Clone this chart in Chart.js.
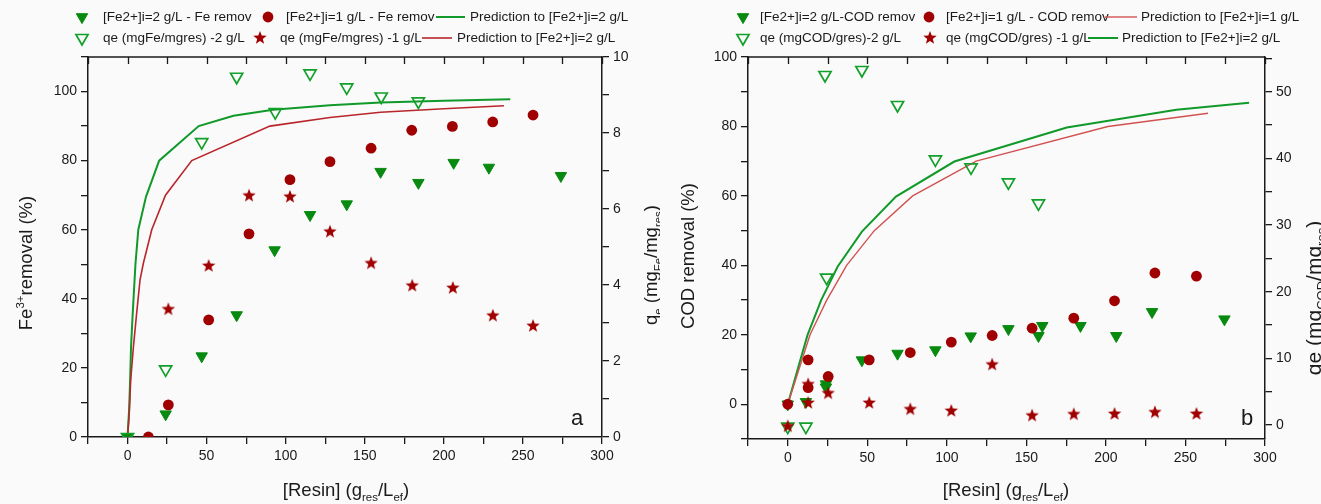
<!DOCTYPE html>
<html>
<head>
<meta charset="utf-8">
<script src="https://cdn.jsdelivr.net/npm/chart.js@4.4.1/dist/chart.umd.min.js"></script>
<style>
  html, body { margin: 0; padding: 0; background: #fafafa; }
  #wrap { position: relative; width: 1321px; height: 504px; overflow: hidden; }
  canvas { position: absolute; top: 0; }
  #chart-fe { left: 0; }
  #chart-cod { left: 660px; }
</style>
</head>
<body>
<div id="wrap">
  <canvas id="chart-fe" width="660" height="504"></canvas>
  <canvas id="chart-cod" width="661" height="504"></canvas>
</div>
<script>
// Remoção de Fe3+ (a) e de DQO (b) em função da dose de resina.

// ---- (a) Fe ----
var feX2 = [0, 24.1, 46.9, 69, 93, 115.4, 138.6, 160, 183.9, 206.2, 228.5, 274];
var feRem2 = [0, 6.6, 23.4, 35.3, 54.1, 64.3, 67.4, 76.8, 73.6, 79.4, 78, 75.6];
var feX1 = [13.2, 25.8, 51.3, 76.8, 102.7, 128, 154, 179.7, 205.4, 230.9, 256.4];
var feRem1 = [0, 9.3, 33.9, 58.8, 74.5, 79.7, 83.6, 88.8, 89.9, 91.2, 93.2];
var feQeX2 = [0, 24.1, 46.9, 69, 93.4, 115.4, 138.6, 160.4, 183.9];
var feQe2 = [0, 1.78, 7.76, 9.48, 8.55, 9.57, 9.2, 8.96, 8.83];
var feQeX1 = [25.8, 51.3, 76.8, 102.7, 128, 154, 180, 205.7, 231, 256.4];
var feQe1 = [3.36, 4.5, 6.35, 6.32, 5.4, 4.57, 3.98, 3.92, 3.19, 2.92];
var fePredX2 = [0, 1, 1.6, 2.2, 3.3, 5, 6.8, 11.7, 20, 45, 67, 92, 128, 160, 200, 242];
var fePred2 = [0, 8, 16, 26, 36, 50, 60, 69.6, 80, 90, 93, 94.7, 96, 96.8, 97.3, 97.8];
var fePredX1 = [0, 1.1, 2, 3.7, 5.8, 7.9, 10, 15.3, 24, 40.6, 90, 128, 160, 200, 238];
var fePred1 = [0, 7, 16.5, 26, 36, 45.5, 50.3, 60, 70, 80, 90, 92.5, 94, 95, 95.9];

// ---- (b) DQO ----
var codX2 = [0, 11.4, 24, 24, 46.6, 69, 92.8, 115, 138.7, 157.6, 160, 184, 206.5, 229, 274.5];
var codRem2 = [0, 0.7, 5.8, 4.9, 12.7, 14.6, 15.6, 19.6, 21.7, 19.7, 22.6, 22.6, 19.7, 26.6, 24.5];
var codX1 = [0, 12.8, 12.8, 25.4, 51.2, 77, 102.8, 128.5, 153.6, 179.8, 205.4, 230.8, 256.9];
var codRem1 = [0, 12.8, 4.8, 8, 12.8, 14.9, 17.9, 19.8, 21.9, 24.8, 29.8, 37.8, 36.9];
var codQeX2 = [0, 11.4, 24.4, 23.4, 46.6, 69, 92.8, 115.2, 138.7, 157.6];
var codQe2 = [-0.25, -0.25, 22.1, 52.5, 53.25, 48, 39.85, 38.65, 36.4, 33.25];
var codQeX1 = [0, 12.8, 12.8, 25.4, 51.2, 77, 102.8, 128.5, 153.6, 179.8, 205.4, 230.8, 256.9];
var codQe1 = [-0.2, 6.1, 3.3, 4.75, 3.3, 2.35, 2.1, 9.05, 1.4, 1.6, 1.65, 1.9, 1.65];
var codPredX2 = [0, 6.5, 12.4, 21, 31.3, 46.6, 68, 104.7, 175.4, 244.3, 290];
var codPred2 = [0, 10.5, 19.9, 30, 39.6, 49.7, 59.8, 69.9, 79.7, 84.8, 86.8];
var codPredX1 = [0, 14, 24.5, 37, 54.4, 78.5, 118.4, 201.2, 264.2];
var codPred1 = [0, 20, 30, 40, 50, 60, 70, 80, 83.8];

var GREEN = "#078a0f";
var GREEN_OPEN = "#12a02a";
var GREEN_LINE = "#11992a";
var DARK_RED = "#a00000";
var RED_LINE_A = "#b8262b";
var RED_LINE_B = "#d25252";
var INK = "#1a1a1a";
var FONT = "'Liberation Sans', Arial, sans-serif";

function pts(xs, ys) {
  return xs.map(function (x, i) { return { x: x, y: ys[i] }; });
}

// estrela cheia de 5 pontas (o "star" nativo do Chart.js é um asterisco)
function starImage(r, color) {
  var size = Math.ceil(r * 2) + 2;
  var c = document.createElement("canvas");
  c.width = c.height = size;
  var g = c.getContext("2d");
  g.fillStyle = color;
  g.beginPath();
  for (var i = 0; i < 10; i++) {
    var rad = i % 2 ? r * 0.42 : r;
    var a = -Math.PI / 2 + (i * Math.PI) / 5;
    g.lineTo(size / 2 + rad * Math.cos(a), size / 2 + rad * Math.sin(a));
  }
  g.closePath();
  g.fill();
  return c;
}
var STAR = starImage(7, DARK_RED);

function markers(data, axis, kind) {
  var ds = { data: data, yAxisID: axis, showLine: false, clip: 0 };
  if (kind === "filled") {
    ds.pointStyle = "triangle"; ds.pointRotation = 180; ds.pointRadius = 6.6;
    ds.backgroundColor = GREEN; ds.borderColor = GREEN; ds.borderWidth = 1;
  } else if (kind === "open") {
    ds.pointStyle = "triangle"; ds.pointRotation = 180; ds.pointRadius = 7;
    ds.backgroundColor = "rgba(0,0,0,0)"; ds.borderColor = GREEN_OPEN; ds.borderWidth = 1.7;
  } else if (kind === "circle") {
    ds.pointStyle = "circle"; ds.pointRadius = 5.4;
    ds.backgroundColor = DARK_RED; ds.borderColor = DARK_RED; ds.borderWidth = 0;
  } else {
    ds.pointStyle = STAR; ds.pointRadius = 7;
    ds.backgroundColor = DARK_RED; ds.borderColor = DARK_RED; ds.borderWidth = 0;
  }
  ds.pointHoverRadius = ds.pointRadius;
  return ds;
}

function curve(data, color, width) {
  return {
    data: data, yAxisID: "y", showLine: true, tension: 0, clip: 0,
    borderColor: color, backgroundColor: color, borderWidth: width,
    pointRadius: 0, pointHoverRadius: 0,
  };
}

// texto com sub/sobrescritos: parts = [[texto, "sub"|"sup"|undefined], ...]
function drawRich(ctx, parts, x, y, size, angle) {
  var small = size * 0.62;
  var total = 0;
  parts.forEach(function (p) {
    ctx.font = (p[1] ? small : size) + "px " + FONT;
    p.w = ctx.measureText(p[0]).width;
    total += p.w;
  });
  ctx.save();
  ctx.translate(x, y);
  ctx.rotate(angle || 0);
  ctx.fillStyle = INK;
  ctx.textAlign = "left";
  ctx.textBaseline = "alphabetic";
  var cx = -total / 2;
  var base = size * 0.36;
  parts.forEach(function (p) {
    ctx.font = (p[1] ? small : size) + "px " + FONT;
    var dy = p[1] === "sub" ? size * 0.28 : p[1] === "sup" ? -size * 0.42 : 0;
    ctx.fillText(p[0], cx, base + dy);
    cx += p.w;
  });
  ctx.restore();
}

// moldura superior com ticks internos, títulos, letra do painel e legenda
var decorPlugin = {
  id: "decor",
  afterDraw: function (chart, args, opts) {
    var ctx = chart.ctx;
    var area = chart.chartArea;
    var xs = chart.scales.x;
    ctx.save();
    ctx.strokeStyle = INK;
    ctx.lineWidth = 1.5;
    ctx.beginPath();
    ctx.moveTo(area.left, area.top);
    ctx.lineTo(area.right, area.top);
    ctx.stroke();
    ctx.lineWidth = 1.3;
    xs.ticks.forEach(function (t) {
      var px = Math.round(xs.getPixelForValue(t.value)) + 0.5;
      ctx.beginPath();
      ctx.moveTo(px, area.top);
      ctx.lineTo(px, area.top + 7);
      ctx.stroke();
    });

    ctx.fillStyle = INK;
    ctx.font = "22px " + FONT;
    ctx.textAlign = "center";
    ctx.textBaseline = "middle";
    ctx.fillText(opts.letter, opts.letterX, opts.letterY);

    opts.titles.forEach(function (t) {
      drawRich(ctx, t.parts, t.x, t.y, t.size || 18.5, t.angle);
    });

    ctx.font = "13.5px " + FONT;
    ctx.textAlign = "left";
    ctx.textBaseline = "middle";
    opts.legend.forEach(function (it) {
      var ds = chart.data.datasets[it.ds];
      if (it.x2) {
        ctx.strokeStyle = ds.borderColor;
        ctx.lineWidth = ds.borderWidth;
        ctx.beginPath();
        ctx.moveTo(it.x1, it.y);
        ctx.lineTo(it.x2, it.y);
        ctx.stroke();
      } else {
        ctx.fillStyle = ds.backgroundColor;
        ctx.strokeStyle = ds.borderColor;
        ctx.lineWidth = ds.borderWidth;
        Chart.helpers.drawPoint(ctx, {
          pointStyle: ds.pointStyle,
          radius: ds.pointRadius,
          rotation: ds.pointRotation || 0,
          borderWidth: ds.borderWidth,
        }, it.x1, it.y);
      }
      ctx.fillStyle = INK;
      ctx.fillText(it.text, it.tx, it.y);
    });
    ctx.restore();
  },
};

function axisX(height) {
  return {
    type: "linear", position: "bottom", min: -25, max: 300,
    ticks: {
      stepSize: 25, autoSkip: false, maxRotation: 0, padding: 4,
      color: INK, font: { family: FONT, size: 14 },
      callback: function (v) { return v >= 0 && v % 50 === 0 ? v : ""; },
    },
    grid: { drawOnChartArea: false, tickLength: 7, color: INK, lineWidth: 1.3 },
    border: { color: INK, width: 1.5 },
    afterFit: function (s) { s.height = height; },
  };
}

function axisY(pos, min, max, step, every, width) {
  return {
    type: "linear", position: pos, min: min, max: max,
    ticks: {
      stepSize: step, autoSkip: false, includeBounds: false, padding: 4,
      color: INK, font: { family: FONT, size: 14 },
      callback: function (v) { return Math.abs(v % every) < 1e-6 && v >= 0 ? v : ""; },
    },
    grid: { drawOnChartArea: false, tickLength: 7, color: INK, lineWidth: 1.3 },
    border: { color: INK, width: 1.5 },
    afterFit: function (s) { s.width = width; },
  };
}

Chart.defaults.animation = false;
Chart.defaults.events = [];

new Chart(document.getElementById("chart-fe"), {
  type: "scatter",
  data: {
    datasets: [
      markers(pts(feQeX1, feQe1), "y1", "star"),
      markers(pts(feQeX2, feQe2), "y1", "open"),
      markers(pts(feX1, feRem1), "y", "circle"),
      markers(pts(feX2, feRem2), "y", "filled"),
      curve(pts(fePredX1, fePred1), RED_LINE_A, 1.6),
      curve(pts(fePredX2, fePred2), GREEN_LINE, 2),
    ],
  },
  options: {
    responsive: false,
    layout: { padding: { top: 57, left: 0, right: 0, bottom: 0 } },
    scales: {
      x: axisX(67),
      y: axisY("left", 0, 110, 10, 20, 88),
      y1: axisY("right", 0, 10, 1, 2, 58),
    },
    plugins: {
      legend: { display: false },
      tooltip: { enabled: false },
      decor: {
        letter: "a", letterX: 577, letterY: 419,
        titles: [
          { parts: [["Fe"], ["3+", "sup"], ["removal (%)"]], x: 25, y: 263, angle: -Math.PI / 2 },
          { parts: [["q"], ["e", "sub"], [" (mg"], ["Fe", "sub"], ["/mg"], ["res", "sub"], [")"]], x: 650, y: 265, angle: -Math.PI / 2 },
          { parts: [["[Resin] (g"], ["res", "sub"], ["/L"], ["ef", "sub"], [")"]], x: 346, y: 489, angle: 0 },
        ],
        legend: [
          { ds: 3, x1: 82, y: 17, tx: 103, text: "[Fe2+]i=2 g/L - Fe remov" },
          { ds: 2, x1: 268, y: 17, tx: 286, text: "[Fe2+]i=1 g/L - Fe remov" },
          { ds: 5, x1: 436, x2: 465, y: 17, tx: 470, text: "Prediction to [Fe2+]i=2 g/L" },
          { ds: 1, x1: 82, y: 38, tx: 103, text: "qe (mgFe/mgres) -2 g/L" },
          { ds: 0, x1: 260, y: 38, tx: 280, text: "qe (mgFe/mgres) -1 g/L" },
          { ds: 4, x1: 422, x2: 452, y: 38, tx: 457, text: "Prediction to [Fe2+]i=2 g/L" },
        ],
      },
    },
  },
  plugins: [decorPlugin],
});

new Chart(document.getElementById("chart-cod"), {
  type: "scatter",
  data: {
    datasets: [
      markers(pts(codQeX1, codQe1), "y1", "star"),
      markers(pts(codQeX2, codQe2), "y1", "open"),
      markers(pts(codX1, codRem1), "y", "circle"),
      markers(pts(codX2, codRem2), "y", "filled"),
      curve(pts(codPredX1, codPred1), RED_LINE_B, 1.4),
      curve(pts(codPredX2, codPred2), GREEN_LINE, 2),
    ],
  },
  options: {
    responsive: false,
    layout: { padding: { top: 57, left: 0, right: 0, bottom: 0 } },
    scales: {
      x: axisX(65),
      y: axisY("left", -10, 100, 10, 20, 88),
      y1: axisY("right", -2.1, 55.2, 5, 10, 56),
    },
    plugins: {
      legend: { display: false },
      tooltip: { enabled: false },
      decor: {
        letter: "b", letterX: 587, letterY: 419,
        titles: [
          { parts: [["COD removal (%)"]], x: 27, y: 256, angle: -Math.PI / 2 },
          { parts: [["qe (mg"], ["COD", "sub"], ["/mg"], ["res", "sub"], [")"]], x: 653, y: 298, angle: -Math.PI / 2, size: 21 },
          { parts: [["[Resin] (g"], ["res", "sub"], ["/L"], ["ef", "sub"], [")"]], x: 346, y: 489, angle: 0 },
        ],
        legend: [
          { ds: 3, x1: 83, y: 17, tx: 100, text: "[Fe2+]i=2 g/L-COD remov" },
          { ds: 2, x1: 269, y: 17, tx: 286, text: "[Fe2+]i=1 g/L - COD remov" },
          { ds: 4, x1: 445, x2: 477, y: 17, tx: 481, text: "Prediction to [Fe2+]i=1 g/L" },
          { ds: 1, x1: 83, y: 38, tx: 100, text: "qe (mgCOD/gres)-2 g/L" },
          { ds: 0, x1: 270, y: 38, tx: 286, text: "qe (mgCOD/gres) -1 g/L" },
          { ds: 5, x1: 428, x2: 458, y: 38, tx: 462, text: "Prediction to [Fe2+]i=2 g/L" },
        ],
      },
    },
  },
  plugins: [decorPlugin],
});
</script>
</body>
</html>
